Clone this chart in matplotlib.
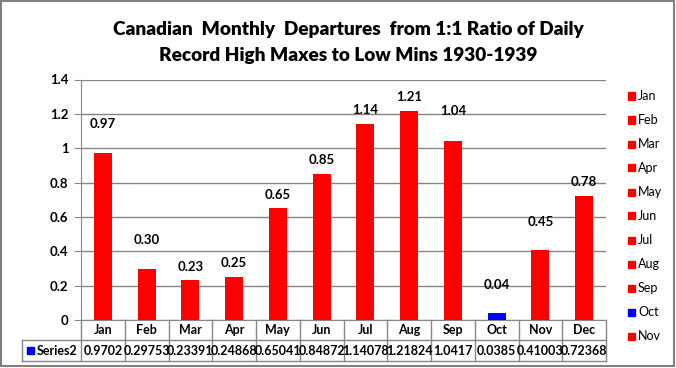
import matplotlib
matplotlib.use("Agg")
import matplotlib.pyplot as plt
from matplotlib.patches import Rectangle
from matplotlib.lines import Line2D

months = ["Jan", "Feb", "Mar", "Apr", "May", "Jun", "Jul", "Aug", "Sep", "Oct", "Nov", "Dec"]
values = [0.9702, 0.29753, 0.23391, 0.24868, 0.65041, 0.84872, 1.14078, 1.21824, 1.0417, 0.0385, 0.41003, 0.72368]
value_texts = ["0.9702", "0.29753", "0.23391", "0.24868", "0.65041", "0.84872", "1.14078", "1.21824", "1.0417", "0.0385", "0.41003", "0.72368"]
bar_labels = ["0.97", "0.30", "0.23", "0.25", "0.65", "0.85", "1.14", "1.21", "1.04", "0.04", "0.45", "0.78"]
bar_colors = ["#FF0000"] * 9 + ["#0000FF"] + ["#FF0000"] * 2
legend_months = months[:11]
series_name = "Series2"
title = "Canadian  Monthly  Departures  from 1:1 Ratio of Daily\nRecord High Maxes to Low Mins 1930-1939"
yticks = [0, 0.2, 0.4, 0.6, 0.8, 1, 1.2, 1.4]
ytick_labels = ["0", "0.2", "0.4", "0.6", "0.8", "1", "1.2", "1.4"]

W, H = 676, 368
FONT = "Lato"
GRID = "#868686"

fig = plt.figure(figsize=(W / 100, H / 100), dpi=100)
fig.patch.set_facecolor("white")

def fx(px):
    return px / W

def fy(py):
    return 1 - py / H

# outer border
fig.add_artist(Rectangle((fx(1), fy(366)), fx(674) - fx(1), fy(1) - fy(366),
                         transform=fig.transFigure, fill=False, edgecolor="#808080", lw=1.5))

left, right, top, bottom = 81, 606, 79.5, 320
ax = fig.add_axes([fx(left), fy(bottom), fx(right) - fx(left), fy(top) - fy(bottom)])
x = list(range(len(months)))
ax.bar(x, values, width=0.41, color=bar_colors, zorder=3)
ax.set_xlim(-0.5, len(months) - 0.5)
ax.set_ylim(0, 1.4)
ax.set_yticks(yticks)
ax.set_yticklabels(ytick_labels, fontsize=9.5, fontweight="bold", family=FONT)
ax.tick_params(axis="y", length=5, color=GRID, pad=4)
ax.set_xticks([])
ax.grid(axis="y", color=GRID, lw=1, zorder=0)
for s in ["top", "right"]:
    ax.spines[s].set_visible(False)
ax.spines["left"].set_color(GRID)
ax.spines["bottom"].set_color(GRID)

label_offsets = [0.17, 0.17, 0.075, 0.085, 0.08, 0.08, 0.08, 0.08, 0.175, 0.165, 0.16, 0.08]
for i, (v, lab) in enumerate(zip(values, bar_labels)):
    ax.text(i, v + label_offsets[i], lab, ha="center", va="center",
            fontsize=9.5, fontweight="bold", family=FONT, zorder=4)

# title
fig.text(0.515, fy(30), title.split("\n")[0], ha="center", va="center",
         fontsize=13.7, fontweight="heavy", family=FONT)
fig.text(0.515, fy(55), title.split("\n")[1], ha="center", va="center",
         fontsize=13.7, fontweight="heavy", family=FONT)

# data table
cw = (right - left) / len(months)
def hline(x0, x1, y):
    fig.add_artist(Line2D([fx(x0), fx(x1)], [fy(y), fy(y)], transform=fig.transFigure, color=GRID, lw=1))
def vline(xp, y0, y1):
    fig.add_artist(Line2D([fx(xp), fx(xp)], [fy(y0), fy(y1)], transform=fig.transFigure, color=GRID, lw=1))

hline(22, right, 340)
hline(22, right, 361)
vline(22, 340, 361)
for i in range(len(months) + 1):
    vline(left + i * cw, 320, 361)
for i, m in enumerate(months):
    cx = left + (i + 0.5) * cw
    fig.text(fx(cx), fy(330), m, ha="center", va="center", fontsize=9, fontweight="bold", family=FONT)
    fig.text(fx(cx), fy(351), value_texts[i], ha="center", va="center", fontsize=9,
             fontweight="bold", family=FONT)
fig.add_artist(Rectangle((fx(27), fy(354)), fx(34) - fx(27), fy(347) - fy(354),
                         transform=fig.transFigure, color="#0000FF"))
fig.text(fx(37), fy(351), series_name, ha="left", va="center", fontsize=9, fontweight="bold", family=FONT)

# legend
for j, m in enumerate(legend_months):
    yy = 96 + j * 24
    c = bar_colors[j]
    fig.add_artist(Rectangle((fx(628), fy(yy + 3.5)), fx(7), fy(0) - fy(7),
                             transform=fig.transFigure, color=c))
    fig.text(fx(638), fy(yy), m, ha="left", va="center", fontsize=9, family=FONT)

fig.savefig("out.png", dpi=100)
